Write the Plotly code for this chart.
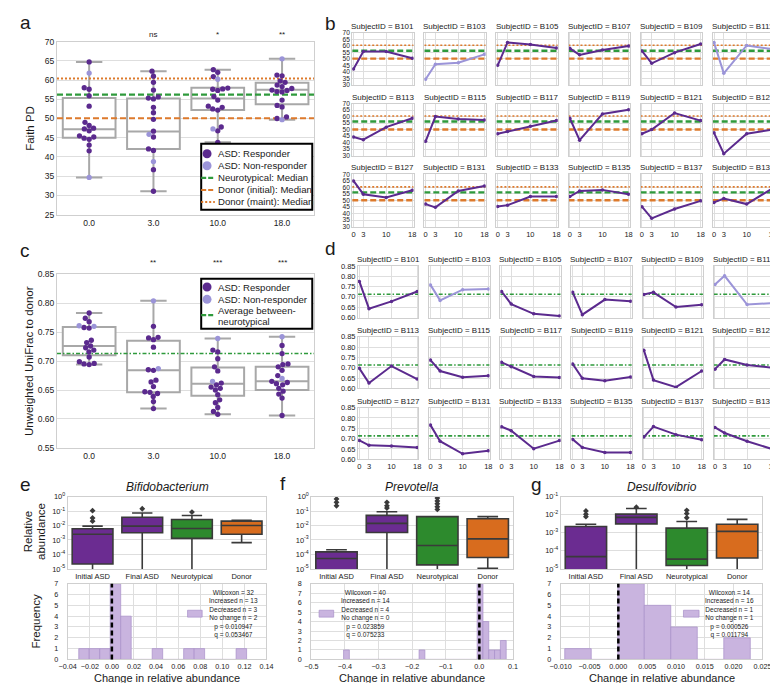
import numpy as np
import plotly.graph_objects as go

W, H = 778, 683
FONT = "Liberation Sans, Arial, Helvetica, sans-serif"
TXT = "#1a1a1a"

# ===================== DATA =====================
time_points = [0, 3, 10, 18]
time_labels = ["0.0", "3.0", "10.0", "18.0"]

# ---- panel a: Faith PD (swarm points) ----
faith_responders = [
    [64.7, 58.0, 57.6, 55.9, 53.2, 49.0, 48.2, 47.5, 47.3, 46.8, 45.5, 45.2, 44.9, 44.6, 43.1, 41.6],
    [62.3, 61.0, 59.4, 57.4, 55.6, 55.3, 55.1, 52.9, 51.5, 49.8, 46.7, 45.2, 42.1, 41.7, 36.7, 31.1],
    [62.7, 62.0, 60.9, 57.9, 57.7, 57.6, 57.3, 55.7, 54.8, 53.2, 52.9, 52.5, 52.2, 47.8, 46.8, 43.8],
    [61.3, 61.1, 59.8, 59.4, 58.7, 58.3, 57.8, 57.4, 57.3, 57.0, 56.9, 54.8, 53.0, 50.4, 50.0, 53.4],
]
faith_nonresponders = [[61.8, 34.7], [45.9, 38.8], [60.2, 47.3], [65.5, 49.7]]
faith_box_q1 = [45.0, 42.1, 52.2, 53.7]
faith_box_median = [47.2, 46.6, 55.2, 57.5]
faith_box_q3 = [55.3, 55.2, 58.0, 59.3]
faith_box_low = [34.7, 31.1, 43.8, 49.7]
faith_box_high = [64.7, 62.3, 62.7, 65.5]
faith_significance = ["", "ns", "*", "**"]
neurotypical_median_faith = 56.2
donor_initial_median_faith = 50.1
donor_maint_median_faith = 60.4

# ---- panel c: unweighted UniFrac to donor ----
unifrac_responders = [
    [0.783, 0.774, 0.768, 0.758, 0.757, 0.736, 0.732, 0.726, 0.723, 0.719, 0.716, 0.707, 0.699, 0.696, 0.695, 0.694],
    [0.760, 0.741, 0.740, 0.737, 0.724, 0.685, 0.684, 0.667, 0.664, 0.656, 0.647, 0.646, 0.644, 0.639, 0.630, 0.618],
    [0.719, 0.716, 0.704, 0.690, 0.683, 0.662, 0.659, 0.655, 0.653, 0.650, 0.642, 0.633, 0.628, 0.620, 0.613, 0.608],
    [0.727, 0.713, 0.695, 0.694, 0.690, 0.684, 0.675, 0.665, 0.663, 0.659, 0.653, 0.648, 0.643, 0.636, 0.606, 0.661],
]
unifrac_nonresponders = [[0.761, 0.760], [0.804, 0.687], [0.739, 0.665], [0.742, 0.670]]
unifrac_box_q1 = [0.710, 0.646, 0.640, 0.650]
unifrac_box_median = [0.726, 0.684, 0.661, 0.665]
unifrac_box_q3 = [0.759, 0.735, 0.689, 0.690]
unifrac_box_low = [0.694, 0.618, 0.608, 0.606]
unifrac_box_high = [0.783, 0.804, 0.739, 0.742]
unifrac_significance = ["", "**", "***", "***"]
neurotypical_between_unifrac = 0.713

# ---- panels b & d: per-subject trajectories ----
subject_ids = ["B101", "B103", "B105", "B107", "B109", "B111",
               "B113", "B115", "B117", "B119", "B121", "B123",
               "B127", "B131", "B133", "B135", "B137", "B139"]
nonresponder_ids = ["B103", "B111"]
faith_by_subject = [
    [42.2, 55.5, 55.5, 50.4], [34.3, 45.8, 47.0, 53.4], [45.0, 62.5, 61.0, 58.3],
    [58.0, 53.0, 56.8, 59.8], [56.0, 46.5, 54.7, 61.3], [62.5, 38.8, 60.2, 57.3],
    [44.3, 42.3, 51.9, 58.7], [41.0, 60.0, 58.2, 57.4], [46.8, 48.5, 52.5, 57.0],
    [58.7, 41.9, 62.0, 65.3], [46.8, 50.0, 62.7, 56.9], [47.5, 31.5, 46.8, 50.0],
    [65.0, 54.8, 52.3, 57.8], [47.2, 44.7, 57.3, 61.1], [45.4, 46.4, 53.0, 53.0],
    [53.0, 57.3, 58.1, 54.8], [45.2, 36.3, 43.4, 49.7], [48.5, 51.5, 47.2, 59.4],
]
unifrac_by_subject = [
    [0.775, 0.643, 0.678, 0.726], [0.758, 0.683, 0.735, 0.738], [0.726, 0.665, 0.618, 0.607],
    [0.722, 0.614, 0.687, 0.679], [0.711, 0.722, 0.651, 0.662], [0.760, 0.802, 0.663, 0.670],
    [0.697, 0.626, 0.708, 0.645], [0.737, 0.684, 0.654, 0.661], [0.726, 0.705, 0.658, 0.653],
    [0.718, 0.649, 0.637, 0.655], [0.785, 0.640, 0.606, 0.684], [0.693, 0.740, 0.713, 0.700],
    [0.691, 0.667, 0.664, 0.657], [0.765, 0.687, 0.626, 0.641], [0.757, 0.738, 0.651, 0.690],
    [0.696, 0.657, 0.632, 0.633], [0.707, 0.758, 0.719, 0.694], [0.754, 0.727, 0.687, 0.648],
]

# ---- panels e, f, g: relative abundance boxes + change histograms ----
group_labels = ["Initial ASD", "Final ASD", "Neurotypical", "Donor"]

bifido_q1 = [2.2e-5, 3.2e-3, 1.3e-3, 2.5e-3]
bifido_median = [2.5e-3, 9.1e-3, 6.3e-3, 1.0e-2]
bifido_q3 = [6.0e-3, 3.7e-2, 2.6e-2, 2.0e-2]
bifido_low = [1e-7, 1e-7, 1e-7, 6.6e-4]
bifido_high = [9.1e-3, 7.4e-2, 4.9e-2, 2.3e-2]
bifido_outliers = [[0.107, 0.033, 0.020], [0.145], [0.085], []]
bifido_hist_start = -0.030
bifido_hist_width = 0.0095
bifido_hist_counts = [1, 1, 1, 7, 4, 0, 0, 1, 0, 0, 1, 1, 0, 0, 0, 1]
bifido_stats = ["Wilcoxon = 32", "Increased n = 13", "Decreased n = 3",
                "No change n = 2", "p = 0.010947", "q = 0.053467"]

prevotella_q1 = [1e-7, 3.3e-3, 1.9e-5, 6.2e-5]
prevotella_median = [5.2e-5, 1.4e-2, 4.2e-4, 1.2e-3]
prevotella_q3 = [1.5e-4, 5.0e-2, 4.1e-2, 2.95e-2]
prevotella_low = [1e-7, 1e-7, 1e-7, 1.1e-5]
prevotella_high = [2.1e-4, 8.9e-2, 4.1e-2, 4.1e-2]
prevotella_outliers = [[0.69, 0.40, 0.23], [0.40, 0.23, 0.16], [0.79, 0.50, 0.32, 0.20, 0.13], []]
prevotella_hist_start = -0.404
prevotella_hist_width = 0.01728
prevotella_hist_counts = [1, 0, 0, 0, 0, 0, 0, 0, 0, 0, 0, 0, 0, 1,
                          0, 0, 0, 0, 0, 0, 0, 0, 0, 8, 4, 1, 1, 2]
prevotella_stats = ["Wilcoxon = 40", "Increased n = 14", "Decreased n = 4",
                    "No change n = 0", "p = 0.023859", "q = 0.075233"]

desulfo_q1 = [1e-7, 3.1e-3, 1.55e-5, 4.0e-5]
desulfo_median = [4.8e-5, 7.1e-3, 3.5e-5, 1.2e-3]
desulfo_q3 = [2.2e-3, 1.07e-2, 1.8e-3, 2.95e-3]
desulfo_low = [1e-7, 1e-7, 1e-7, 1e-7]
desulfo_high = [2.95e-3, 2.2e-2, 4.2e-3, 5.5e-3]
desulfo_outliers = [[0.0162, 0.0107, 0.0078], [0.026], [0.0174, 0.0115, 0.0068], []]
desulfo_hist_start = -0.0093
desulfo_hist_width = 0.0046
desulfo_hist_counts = [1, 0, 7, 5, 3, 0, 2]
desulfo_stats = ["Wilcoxon = 14", "Increased n = 16", "Decreased n = 1",
                 "No change n = 1", "p = 0.000526", "q = 0.011794"]

# ===================== STYLE =====================
RESP = "#5b2a8e"
NONRESP = "#9b94d8"
GREEN = "#2f9a3c"
ORANGE = "#dd7a2c"
BOXGRAY = "#a8a8a8"
GRID = "#dedede"
FRAME = "#cfcfcf"
BOX_COLORS = ["#6b2c91", "#6b2c91", "#2d8a2d", "#d86c1e"]
BOX_EDGE = "#3a3a3a"
HIST_FILL = "#c9b4df"
HIST_EDGE = "#a88fc8"

lay = dict(width=W, height=H, margin=dict(l=0, r=0, t=0, b=0),
           paper_bgcolor="white", plot_bgcolor="white", showlegend=False,
           hovermode=False, font=dict(family=FONT, color=TXT, size=8))
shapes, annotations, traces = [], [], []
n_axes = [0]


def add_axes(x0, x1, y0, y1, xo, yo):
    n_axes[0] += 1
    n = n_axes[0]
    sfx = "" if n == 1 else str(n)
    base = dict(showgrid=True, gridcolor=GRID, gridwidth=1, zeroline=False,
                showline=True, linecolor=FRAME, linewidth=1, mirror=True,
                ticks="", fixedrange=True, tickfont=dict(size=8, color=TXT, family=FONT))
    xa = dict(base); xa.update(xo); xa.update(domain=[x0 / W, x1 / W], anchor="y" + sfx)
    ya = dict(base); ya.update(yo); ya.update(domain=[1 - y1 / H, 1 - y0 / H], anchor="x" + sfx)
    lay["xaxis" + sfx] = xa
    lay["yaxis" + sfx] = ya
    return "x" + sfx, "y" + sfx


def text(s, x, y, size=8, xanchor="center", yanchor="middle", angle=0, italic=False, color=TXT):
    if italic:
        s = "<i>" + s + "</i>"
    annotations.append(dict(text=s, x=x / W, y=1 - y / H, xref="paper", yref="paper",
                            showarrow=False, xanchor=xanchor, yanchor=yanchor, textangle=angle,
                            font=dict(size=size, color=color, family=FONT)))


def beeswarm(values, ppu_x, ppu_y, diam):
    vals = np.asarray(values, float)
    order = np.argsort(vals, kind="stable")
    placed, offs = [], np.zeros(len(vals))
    for i in order:
        yp = vals[i] * ppu_y
        cands = [0.0]
        for xq, yq in placed:
            dy = abs(yp - yq)
            if dy < diam:
                dx = np.sqrt(diam ** 2 - dy ** 2)
                cands += [xq + dx, xq - dx]
        cands.sort(key=lambda c: (abs(c), c))
        chosen = cands[-1]
        for c in cands:
            if all((c - xq) ** 2 + (yp - yq) ** 2 >= diam ** 2 - 1e-6 for xq, yq in placed):
                chosen = c
                break
        placed.append((chosen, yp))
        offs[i] = chosen / ppu_x
    return offs


def hline_trace(xa, ya, xr, val, color, dash, width):
    return go.Scatter(x=xr, y=[val, val], mode="lines", xaxis=xa, yaxis=ya,
                      line=dict(color=color, dash=dash, width=width), hoverinfo="skip")


def legend_box(x0, y0, x1, y1):
    shapes.append(dict(type="rect", xref="paper", yref="paper", x0=x0 / W, x1=x1 / W,
                       y0=1 - y1 / H, y1=1 - y0 / H, line=dict(color="black", width=2),
                       fillcolor="white", layer="above"))


def legend_dot(cx, cy, r, color):
    shapes.append(dict(type="circle", xref="paper", yref="paper", x0=(cx - r) / W, x1=(cx + r) / W,
                       y0=1 - (cy + r) / H, y1=1 - (cy - r) / H, line=dict(width=0),
                       fillcolor=color, layer="above"))


def legend_line(xa_, xb_, y, color, dash, width):
    shapes.append(dict(type="line", xref="paper", yref="paper", x0=xa_ / W, x1=xb_ / W,
                       y0=1 - y / H, y1=1 - y / H, line=dict(color=color, dash=dash, width=width),
                       layer="above"))


# ===================== PANELS a & c =====================
faith_refs = [(donor_maint_median_faith, ORANGE, "2px,2px", 2),
              (neurotypical_median_faith, GREEN, "6px,3px", 2.2),
              (donor_initial_median_faith, ORANGE, "6px,3px", 2)]
unifrac_refs = [(neurotypical_between_unifrac, GREEN, "4px,2px,1.5px,2px", 1.6)]


def swarm_panel(y0, y1, yrange, ydtick, yfmt, resp, nonresp, q1, med, q3, lo, hi, refs, sig, sig_y):
    xa, ya = add_axes(39, 303, y0, y1,
                      dict(range=[-0.5, 3.5], tickvals=[0, 1, 2, 3], ticktext=time_labels,
                           showgrid=False, tickfont=dict(size=8.5)),
                      dict(range=yrange, dtick=ydtick, tick0=0, tickformat=yfmt,
                           tickfont=dict(size=8.5)))
    for i in range(4):
        traces.append(go.Box(x=[i], q1=[q1[i]], median=[med[i]], q3=[q3[i]],
                             lowerfence=[lo[i]], upperfence=[hi[i]], orientation="v",
                             width=0.82, whiskerwidth=0.5, fillcolor="white",
                             line=dict(color=BOXGRAY, width=2), boxpoints=False,
                             xaxis=xa, yaxis=ya, hoverinfo="skip"))
    for val, col, dash, w in refs:
        traces.append(hline_trace(xa, ya, [-0.5, 3.5], val, col, dash, w))
    ppu_y = (y1 - y0) / (yrange[1] - yrange[0])
    for i in range(4):
        allv = list(resp[i]) + list(nonresp[i])
        offs = beeswarm(allv, 66.0, ppu_y, 5.3)
        nr = len(resp[i])
        traces.append(go.Scatter(x=i + offs[:nr], y=resp[i], mode="markers", xaxis=xa, yaxis=ya,
                                 marker=dict(color=RESP, size=5.3, line=dict(width=0))))
        traces.append(go.Scatter(x=i + offs[nr:], y=nonresp[i], mode="markers", xaxis=xa, yaxis=ya,
                                 marker=dict(color=NONRESP, size=5.3, line=dict(width=0))))
        if sig[i]:
            text(sig[i], 72 + 66 * i, sig_y, size=8)


swarm_panel(28, 204, [25, 70], 5, "d", faith_responders, faith_nonresponders,
            faith_box_q1, faith_box_median, faith_box_q3, faith_box_low, faith_box_high,
            faith_refs, faith_significance, 21)
swarm_panel(264.5, 441, [0.55, 0.85], 0.05, ".2f", unifrac_responders, unifrac_nonresponders,
            unifrac_box_q1, unifrac_box_median, unifrac_box_q3, unifrac_box_low, unifrac_box_high,
            unifrac_refs, unifrac_significance, 253)

# legend a
legend_box(187, 132, 301, 199)
legend_dot(193, 142, 4.6, RESP)
legend_dot(193, 154.3, 4.6, NONRESP)
legend_line(187, 201, 166.5, GREEN, "5px,2px", 2.2)
legend_line(187, 201, 178.8, ORANGE, "5px,2px", 2)
legend_line(187, 201, 191, ORANGE, "2px,2px", 2)
for s, yy in zip(["ASD: Responder", "ASD: Non-responder", "Neurotypical: Median",
                  "Donor (initial): Median", "Donor (maint): Median"],
                 [142, 154.3, 166.5, 178.8, 191]):
    text(s, 202.5, yy, size=9.6, xanchor="left")

# legend c
legend_box(187, 269, 301, 320)
legend_dot(193, 277.5, 4.6, RESP)
legend_dot(193, 290, 4.6, NONRESP)
legend_line(187, 201, 306, GREEN, "5px,2px", 2.2)
text("ASD: Responder", 202.5, 277.5, size=9.6, xanchor="left")
text("ASD: Non-responder", 202.5, 290, size=9.6, xanchor="left")
text("Average between-", 202.5, 301, size=9.6, xanchor="left")
text("neurotypical", 202.5, 312.5, size=9.6, xanchor="left")

text("Faith PD", 11, 116, size=11.5, angle=-90)
text("Unweighted UniFrac to donor", 11, 353, size=11.5, angle=-90)

# ===================== PANELS b & d =====================
def grid_panel(values, left0, step, width, top0, height, yrange, ytickvals, yfmt, refs, title_off, yfont):
    for k, sid in enumerate(subject_ids):
        r, c = divmod(k, 6)
        x0 = left0 + step * c
        x1 = x0 + width
        y0 = top0[r]
        y1 = y0 + height
        xa, ya = add_axes(x0, x1, y0, y1,
                          dict(range=[-0.4, 18.4], tickvals=time_points,
                               ticktext=[str(t) for t in time_points], showticklabels=(r == 2),
                               tickfont=dict(size=7.5)),
                          dict(range=yrange, tickvals=ytickvals, tickformat=yfmt,
                               showticklabels=(c == 0), tickfont=dict(size=yfont)))
        for val, col, dash, w in refs:
            traces.append(hline_trace(xa, ya, [-0.4, 18.4], val, col, dash, w))
        color = NONRESP if sid in nonresponder_ids else RESP
        traces.append(go.Scatter(x=time_points, y=values[k], mode="lines+markers", xaxis=xa, yaxis=ya,
                                 line=dict(color=color, width=2), marker=dict(color=color, size=3.5)))
        text("SubjectID = " + sid, (x0 + x1) / 2, y0 - title_off, size=8)


grid_panel(faith_by_subject, 342, 74, 63, [19, 91, 163], 53, [30, 70],
           list(range(30, 71, 5)), "d",
           [(donor_maint_median_faith, ORANGE, "2px,2px", 1.6),
            (neurotypical_median_faith, GREEN, "6px,3px", 2.4),
            (donor_initial_median_faith, ORANGE, "6px,3px", 2.4)], 6.5, 6.6)
grid_panel(unifrac_by_subject, 348, 73, 62, [256, 328, 400], 52.5, [0.6, 0.85],
           [0.60, 0.65, 0.70, 0.75, 0.80, 0.85], ".2f",
           [(neurotypical_between_unifrac, GREEN, "4px,2px,1.5px,2px", 1.6)], 6.5, 7.5)

# ===================== PANELS e, f, g =====================
genera = [
    dict(name="Bifidobacterium", q1=bifido_q1, med=bifido_median, q3=bifido_q3, lo=bifido_low,
         hi=bifido_high, out=bifido_outliers, hs=bifido_hist_start, hw=bifido_hist_width,
         hc=bifido_hist_counts, stats=bifido_stats, x0=50, x1=254, logr=[-5, 0],
         hxr=[-0.04, 0.14], hdt=0.02, hfmt=".2f", hyr=[0, 7], legx=193, patch=(173, 188)),
    dict(name="Prevotella", q1=prevotella_q1, med=prevotella_median, q3=prevotella_q3, lo=prevotella_low,
         hi=prevotella_high, out=prevotella_outliers, hs=prevotella_hist_start, hw=prevotella_hist_width,
         hc=prevotella_hist_counts, stats=prevotella_stats, x0=300, x1=507, logr=[-5, 0],
         hxr=[-0.5, 0.1], hdt=0.1, hfmt=".1f", hyr=[0, 8], legx=328, patch=(308, 323)),
    dict(name="Desulfovibrio", q1=desulfo_q1, med=desulfo_median, q3=desulfo_q3, lo=desulfo_low,
         hi=desulfo_high, out=desulfo_outliers, hs=desulfo_hist_start, hw=desulfo_hist_width,
         hc=desulfo_hist_counts, stats=desulfo_stats, x0=556, x1=763, logr=[-5, -1],
         hxr=[-0.010, 0.025], hdt=0.005, hfmt=".3f", hyr=[0, 7], legx=702, patch=(682, 698)),
]

for g in genera:
    exps = list(range(g["logr"][0], g["logr"][1] + 1))
    xa, ya = add_axes(g["x0"], g["x1"], 490.5, 564,
                      dict(range=[-0.5, 3.5], tickvals=[0, 1, 2, 3], ticktext=group_labels,
                           showgrid=False, tickfont=dict(size=7.5)),
                      dict(type="log", range=g["logr"], tickvals=[10.0 ** e for e in exps],
                           ticktext=["10<sup>%d</sup>" % e for e in exps], tickfont=dict(size=7.5)))
    for i in range(4):
        traces.append(go.Box(x=[i], q1=[g["q1"][i]], median=[g["med"][i]], q3=[g["q3"][i]],
                             lowerfence=[g["lo"][i]], upperfence=[g["hi"][i]], orientation="v",
                             width=0.82, whiskerwidth=0.5, fillcolor=BOX_COLORS[i],
                             line=dict(color=BOX_EDGE, width=1.6), boxpoints=False,
                             xaxis=xa, yaxis=ya, hoverinfo="skip"))
        if g["out"][i]:
            traces.append(go.Scatter(x=[i] * len(g["out"][i]), y=g["out"][i], mode="markers",
                                     xaxis=xa, yaxis=ya,
                                     marker=dict(symbol="diamond", size=4.5, color=BOX_EDGE)))
    text(g["name"], (g["x0"] + g["x1"]) / 2, 481, size=12, italic=True)

    hx, hy = add_axes(g["x0"], g["x1"], 579, 656,
                      dict(range=g["hxr"], dtick=g["hdt"], tick0=0, tickformat=g["hfmt"],
                           tickfont=dict(size=7.2)),
                      dict(range=g["hyr"], dtick=1, tickfont=dict(size=7.2), ticklabelstandoff=7))
    centers = [g["hs"] + g["hw"] * (k + 0.5) for k in range(len(g["hc"]))]
    traces.append(go.Bar(x=centers, y=g["hc"], width=g["hw"], xaxis=hx, yaxis=hy,
                         marker=dict(color=HIST_FILL, line=dict(color=HIST_EDGE, width=0.7))))
    shapes.append(dict(type="line", xref=hx, yref=hy + " domain", x0=0, x1=0, y0=0, y1=1,
                       line=dict(color="black", width=2.5, dash="5px,3px"), layer="above"))
    shapes.append(dict(type="rect", xref="paper", yref="paper", x0=g["patch"][0] / W,
                       x1=g["patch"][1] / W, y0=1 - 613 / H, y1=1 - 606 / H,
                       fillcolor=HIST_FILL, line=dict(color=HIST_EDGE, width=0.7), layer="above"))
    text("<br>".join(g["stats"]), g["legx"], 609.5, size=6.5, xanchor="left")
    text("Change in relative abundance", (g["x0"] + g["x1"]) / 2, 674.5, size=11)

text("Relative", 9, 526, size=11.5, angle=-90)
text("abundance", 22, 526, size=11.5, angle=-90)
text("Frequency", 18, 617, size=11.5, angle=-90)

# panel letters
for s, x, y in [("a", 7, 9), ("b", 320, 10), ("c", 6, 240), ("d", 320, 238),
                ("e", 7, 478), ("f", 271, 477), ("g", 531, 478)]:
    text(s, x, y, size=19)

lay["shapes"] = shapes
lay["annotations"] = annotations
fig = go.Figure(data=traces, layout=lay)
fig.write_html("out.html")
